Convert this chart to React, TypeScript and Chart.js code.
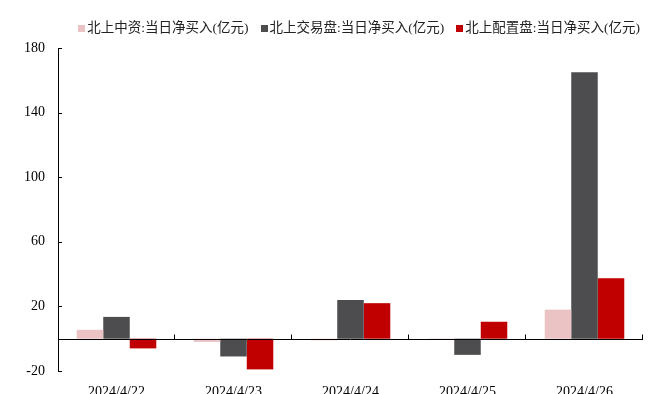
import React, { useEffect, useRef } from 'react';
import { Chart, registerables } from 'chart.js';

Chart.register(...registerables);

const categories = ['2024/4/22', '2024/4/23', '2024/4/24', '2024/4/25', '2024/4/26'];
const seriesNames = ['北上中资:当日净买入(亿元)', '北上交易盘:当日净买入(亿元)', '北上配置盘:当日净买入(亿元)'];
const zhongziValues = [5.5, -2, -1, -0.5, 18];
const jiaoyiValues = [13.5, -11, 24, -10, 165];
const peizhiValues = [-6, -19, 22, 10.5, 37.5];
const yMin = -20;
const yMax = 180;
const yStep = 40;
const seriesColors = ['#EBC3C4', '#4D4D50', '#C00000'];

const FONT = "'Liberation Serif', 'Times New Roman', 'Noto Sans CJK SC', serif";

const decorPlugin = {
  id: 'decor',
  afterDraw(chart: any) {
    const ctx = chart.ctx;
    const xs = chart.scales.x;
    const ys = chart.scales.y;
    const { left, right } = chart.chartArea;
    const y0 = Math.round(ys.getPixelForValue(0)) + 0.5;
    ctx.save();
    ctx.strokeStyle = '#000';
    ctx.lineWidth = 1;
    ctx.beginPath();
    ctx.moveTo(left, y0);
    ctx.lineTo(right, y0);
    // category boundary ticks, pointing up
    for (let i = 1; i <= categories.length; i++) {
      const bx = Math.round(xs.getPixelForValue(i - 0.5)) - 0.5;
      ctx.moveTo(bx, y0);
      ctx.lineTo(bx, y0 - 5);
    }
    // y ticks, pointing inward
    ys.ticks.forEach((t: any) => {
      const py = Math.round(ys.getPixelForValue(t.value)) + 0.5;
      ctx.moveTo(left, py);
      ctx.lineTo(left + 4, py);
    });
    ctx.stroke();

    // legend
    ctx.font = `13.5px ${FONT}`;
    ctx.textBaseline = 'middle';
    ctx.textAlign = 'left';
    const box = 7;
    const gapBoxText = 2;
    const gapItems = 12;
    const widths = seriesNames.map((n) => ctx.measureText(n).width);
    const total = widths.reduce((a, b) => a + b, 0) + seriesNames.length * (box + gapBoxText) + (seriesNames.length - 1) * gapItems;
    let x = right - 3 - total;
    const cy = 28.5;
    seriesNames.forEach((n, i) => {
      ctx.fillStyle = seriesColors[i];
      ctx.fillRect(Math.round(x), Math.round(cy - box / 2), box, box);
      x += box + gapBoxText;
      ctx.fillStyle = '#222';
      ctx.fillText(n, x, cy);
      x += widths[i] + gapItems;
    });
    ctx.restore();
  },
};

export default function App() {
  const ref = useRef<HTMLCanvasElement | null>(null);
  useEffect(() => {
    if (!ref.current) return;
    const chart = new Chart(ref.current, {
      type: 'bar',
      data: {
        labels: categories,
        datasets: [
          { label: seriesNames[0], data: zhongziValues, backgroundColor: seriesColors[0] },
          { label: seriesNames[1], data: jiaoyiValues, backgroundColor: seriesColors[1] },
          { label: seriesNames[2], data: peizhiValues, backgroundColor: seriesColors[2] },
        ],
      },
      options: {
        animation: false,
        responsive: true,
        maintainAspectRatio: false,
        layout: { padding: { top: 48, right: 15, left: 0, bottom: 0 } },
        datasets: { bar: { categoryPercentage: 0.68, barPercentage: 1 } },
        plugins: { legend: { display: false }, tooltip: { enabled: false } },
        scales: {
          x: {
            grid: { display: false, drawTicks: false },
            border: { display: false },
            ticks: { color: '#000', font: { family: FONT, size: 14 }, padding: 13, maxRotation: 0 },
            afterFit: (s: any) => { s.height = 23; },
          },
          y: {
            min: yMin,
            max: yMax,
            grid: { display: false, drawTicks: false },
            border: { display: true, color: '#000', width: 1 },
            ticks: { stepSize: yStep, color: '#000', font: { family: FONT, size: 14 }, padding: 13 },
            afterFit: (s: any) => { s.width = 58; },
          },
        },
      },
      plugins: [decorPlugin],
    });
    return () => chart.destroy();
  }, []);
  return (
    <div style={{ position: 'absolute', left: 0, top: 0, width: 658, height: 394, background: '#fff' }}>
      <canvas ref={ref} />
    </div>
  );
}
